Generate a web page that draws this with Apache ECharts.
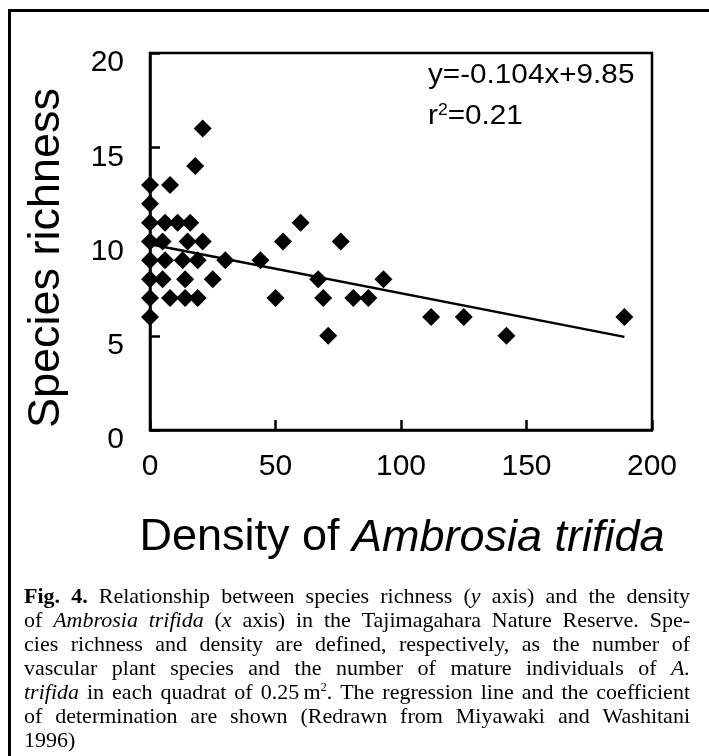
<!DOCTYPE html>
<html>
<head>
<meta charset="utf-8">
<script src="https://cdn.jsdelivr.net/npm/echarts@6/dist/echarts.min.js"></script>
<style>
html, body { margin: 0; padding: 0; background: #fff; }
#chart { width: 709px; height: 756px; }
</style>
</head>
<body>
<div id="chart"></div>
<script>
// 散点数据：密度 (x) 与物种丰富度 (y)
const density = [0, 0, 0, 0, 0, 0, 0, 0,
  8, 21, 18,
  6, 11, 16, 60,
  5, 15, 21, 53, 76,
  6, 13, 19, 30, 44,
  5, 14, 25, 67, 93,
  8, 14, 19, 50, 69, 81, 87,
  112, 125, 189,
  71, 142]
const richness = [6, 7, 8, 9, 10, 11, 12, 13,
  13, 16, 14,
  11, 11, 11, 11,
  10, 10, 10, 10, 10,
  9, 9, 9, 9, 9,
  8, 8, 8, 8, 8,
  7, 7, 7, 7, 7, 7, 7,
  6, 6, 6,
  5, 5]

// 回归线两端
const regX = [0, 189]
const regY = [9.85, 4.94]

const xTicks = [0, 50, 100, 150, 200]
const yTicks = [0, 5, 10, 15, 20]

const equationText = 'y=-0.104x+9.85'
const r2Text = 'r{s|2}=0.21'

// 图注（逐行）
const captionLines = [
  '{b|Fig.} {b|4.} Relationship between species richness ({i|y} axis) and the density',
  'of {i|Ambrosia} {i|trifida} ({i|x} axis) in the Tajimagahara Nature Reserve. Spe-',
  'cies richness and density are defined, respectively, as the number of',
  'vascular plant species and the number of mature individuals of {i|A.}',
  '{i|trifida} in each quadrat of 0.25\u2009m{s|2}. The regression line and the coefficient',
  'of determination are shown (Redrawn from Miyawaki and Washitani',
  '1996)'
]

const sans = '"Liberation Sans", Arial, sans-serif'
const serif = 'Liberation Serif'
const capSize = 22

const capRich = {
  n: { fontSize: capSize, fontFamily: serif, fill: '#000' },
  i: { fontSize: capSize, fontFamily: serif, fontStyle: 'italic', fill: '#000' },
  b: { fontSize: capSize, fontFamily: serif, fontWeight: 'bold', fill: '#000' },
  s: { fontSize: 12, fontFamily: serif, fill: '#000', padding: [0, 0, 10, 0] }
}

// 测量文字宽度
const ctx = document.createElement('canvas').getContext('2d')
const measure = (txt, st) => {
  ctx.font = (st.fontStyle || 'normal') + ' ' + (st.fontWeight || 'normal') + ' ' + st.fontSize + 'px "' + serif + '"'
  return ctx.measureText(txt).width
}
const wordWidth = (word) => {
  const re = /\{(\w+)\|([^}]*)\}|([^{]+)/g
  let m, w = 0
  while ((m = re.exec(word))) {
    if (m[3]) w += measure(m[3], capRich.n)
    else w += measure(m[2], capRich[m[1]])
  }
  return w
}

// 两端对齐的图注
const capLeft = 24
const capRight = 690
const capTop = 597
const capGap = 24
const captionGraphics = []
captionLines.forEach((line, li) => {
  const words = line.split(' ')
  const widths = words.map(wordWidth)
  const total = widths.reduce((a, b) => a + b, 0)
  const last = li === captionLines.length - 1
  const gap = last ? measure(' ', capRich.n) : (capRight - capLeft - total) / (words.length - 1)
  let x = capLeft
  words.forEach((w, wi) => {
    captionGraphics.push({
      type: 'text',
      x: x,
      y: capTop + li * capGap,
      style: {
        text: w,
        rich: capRich,
        fontSize: capSize,
        fontFamily: serif,
        fill: '#000',
        textAlign: 'left',
        align: 'left',
        textVerticalAlign: 'middle',
        verticalAlign: 'middle'
      }
    })
    x += widths[wi] + gap
  })
})

const chart = echarts.init(document.getElementById('chart'))

const option = {
  backgroundColor: '#fff',
  animation: false,
  grid: {
    left: 150,
    top: 53,
    width: 502,
    height: 377,
    show: true,
    borderColor: '#000',
    borderWidth: 2.5,
    containLabel: false
  },
  xAxis: {
    type: 'value',
    min: xTicks[0],
    max: xTicks[xTicks.length - 1],
    interval: 50,
    splitLine: { show: false },
    axisLine: { lineStyle: { color: '#000', width: 2.5 } },
    axisTick: { inside: true, length: 10, lineStyle: { color: '#000', width: 2.5 } },
    axisLabel: { color: '#000', fontSize: 30, fontFamily: sans, margin: 22 }
  },
  yAxis: {
    type: 'value',
    min: yTicks[0],
    max: yTicks[yTicks.length - 1],
    interval: 5,
    splitLine: { show: false },
    axisLine: { lineStyle: { color: '#000', width: 2.5 } },
    axisTick: { inside: true, length: 10, lineStyle: { color: '#000', width: 2.5 } },
    axisLabel: {
      margin: 26,
      formatter: '{a|{value}}',
      rich: { a: { color: '#000', fontSize: 30, fontFamily: sans, padding: [20, 0, 0, 0] } }
    }
  },
  series: [
    {
      type: 'line',
      data: regX.map((x, i) => [x, regY[i]]),
      showSymbol: false,
      lineStyle: { color: '#000', width: 2.5 },
      z: 2
    },
    {
      type: 'scatter',
      data: density.map((x, i) => [x, richness[i]]),
      symbol: 'diamond',
      symbolSize: 18,
      itemStyle: { color: '#000', opacity: 1 },
      z: 3
    }
  ],
  graphic: [
    // 外框
    {
      type: 'polyline',
      shape: { points: [[9.5, 760], [9.5, 10.5], [712, 10.5]] },
      style: { stroke: '#000', lineWidth: 3, fill: null }
    },
    {
      type: 'text',
      x: 47,
      y: 258,
      rotation: Math.PI / 2,
      style: {
        text: 'Species richness',
        fontSize: 45,
        fontFamily: sans,
        fill: '#000',
        textAlign: 'center', align: 'center',
        textVerticalAlign: 'middle', verticalAlign: 'middle'
      }
    },
    {
      type: 'text',
      x: 402,
      y: 538,
      style: {
        text: 'Density of {i|Ambrosia trifida}',
        fontSize: 45,
        fontFamily: sans,
        fill: '#000',
        rich: { i: { fontSize: 45, fontFamily: sans, fontStyle: 'italic', fill: '#000' } },
        textAlign: 'center', align: 'center',
        textVerticalAlign: 'middle', verticalAlign: 'middle'
      }
    },
    {
      type: 'text',
      x: 428,
      y: 76,
      scaleX: 1.1,
      style: {
        text: equationText,
        fontSize: 27,
        fontFamily: sans,
        fill: '#000',
        textAlign: 'left', align: 'left',
        textVerticalAlign: 'middle', verticalAlign: 'middle'
      }
    },
    {
      type: 'text',
      x: 428,
      y: 117,
      scaleX: 1.1,
      style: {
        text: r2Text,
        fontSize: 27,
        fontFamily: sans,
        fill: '#000',
        rich: { s: { fontSize: 16, fontFamily: sans, fill: '#000', padding: [0, 0, 12, 0] } },
        textAlign: 'left', align: 'left',
        textVerticalAlign: 'middle', verticalAlign: 'middle'
      }
    }
  ].concat(captionGraphics)
}

chart.setOption(option)
</script>
</body>
</html>
